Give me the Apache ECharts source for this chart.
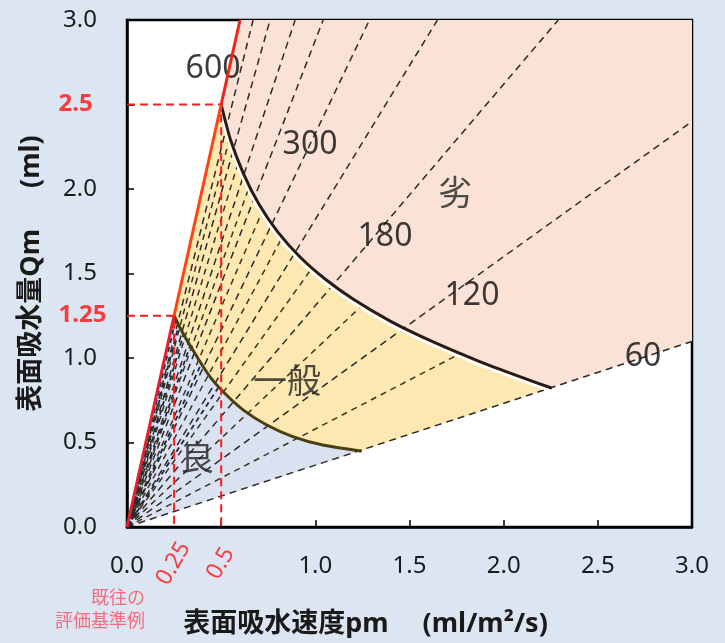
<!DOCTYPE html>
<html><head><meta charset="utf-8">
<script src="https://cdn.jsdelivr.net/npm/echarts@6/dist/echarts.min.js"></script>
<style>html,body{margin:0;padding:0;background:#dce6f2}#c{width:725px;height:643px}</style>
</head><body><div id="c"></div>
<script>
// ---- data ----
const redXTicks = [0.25, 0.5];
const redYTicks = [1.25, 2.5];
// time lines through origin (slopes read at plot edges)
const mainSlopes = [0.366, 0.80, 1.31, 1.82, 2.33, 2.88, 3.36, 3.95, 4.48];
const yellowSlopes = [4.22, 3.65, 3.10, 2.60, 2.08, 1.56, 1.05, 0.58];
const blueSlopes = [4.75, 4.35, 3.80, 3.20, 2.45, 1.70];
// criterion line (red) and guides
const redLine1 = [[0, 0], [0.25, 1.25]];
const redLine2 = [[0.25, 1.25], [0.5, 2.5]];
const redLine3 = [[0.5, 2.5], [0.6, 3.0]];
const guide1 = [[0, 1.25], [0.25, 1.25], [0.25, 0]];
const guide2 = [[0, 2.5], [0.5, 2.5], [0.5, 0]];
// boundary curves
const topCurve = [[0.50, 2.50], [0.55, 2.29], [0.62, 2.087], [0.70, 1.911], [0.80, 1.746], [0.92, 1.596], [1.05, 1.469], [1.20, 1.349], [1.40, 1.217], [1.62, 1.098], [1.86, 0.985], [2.10, 0.884], [2.25, 0.824]];
const midCurve = [[0.25, 1.25], [0.30, 1.14], [0.37, 1.01], [0.44, 0.89], [0.52, 0.79], [0.62, 0.69], [0.74, 0.605], [0.88, 0.535], [1.04, 0.485], [1.24, 0.45]];
const line60End = [3.0, 1.10];
const plotCorner = [3.0, 3.0];
// labels
const rayLabels = ['600', '300', '180', '120', '60'];
const rayLabelPos = [[0.457, 2.71], [0.972, 2.262], [1.37, 1.719], [1.832, 1.37], [2.74, 1.004]];
const zoneLabels = ['劣', '一般', '良'];
const zoneLabelPos = [[1.742, 1.984], [0.85, 0.87], [0.372, 0.413]];

// ---- polygons built from the data ----
const bluePoly = [[0, 0]].concat(midCurve, [[0, 0]]);
const yellowPoly = [redLine2[0], redLine2[1]].concat(topCurve.slice(1), midCurve.slice().reverse());
const pinkPoly = [redLine3[0], redLine3[1], plotCorner, line60End].concat(topCurve.slice().reverse());

const FONT = '"Noto Sans","Noto Sans CJK JP",sans-serif';

function polySeries(points, fill) {
  return {
    type: 'custom', data: [[0]], silent: true,
    renderItem: (params, api) => ({
      type: 'polygon',
      shape: { points: points.map(p => api.coord(p)) },
      style: { fill: fill, stroke: null }
    })
  };
}
function curveSeries(points, color, width, dx, dy) {
  return {
    type: 'custom', data: [[0]], silent: true,
    renderItem: (params, api) => ({
      type: 'polyline',
      shape: { points: points.map(p => { const c = api.coord(p); return [c[0] + (dx || 0), c[1] + (dy || 0)]; }), smooth: 0.25 },
      style: { stroke: color, lineWidth: width, fill: null, lineCap: 'round', lineJoin: 'round' }
    })
  };
}
function raySeries(slopes, color, width, dash) {
  return {
    type: 'custom', silent: true, data: slopes.map(s => [s]),
    renderItem: (params, api) => {
      const s = api.value(0);
      const xe = Math.min(3, 3 / s);
      const a = api.coord([0, 0]), b = api.coord([xe, s * xe]);
      return { type: 'line', shape: { x1: a[0], y1: a[1], x2: b[0], y2: b[1] },
        style: { stroke: color, lineWidth: width, lineDash: dash } };
    }
  };
}
function lineSeries(data, color, width, type) {
  return { type: 'line', data: data, symbol: 'none', silent: true,
    lineStyle: { color: color, width: width, type: type || 'solid' } };
}

const chart = echarts.init(document.getElementById('c'));
chart.setOption({
  backgroundColor: '#dce6f2',
  animation: false,
  grid: { left: 127, right: 33, top: 20, bottom: 115, show: true, backgroundColor: '#ffffff', borderColor: '#000', borderWidth: 2.5 },
  xAxis: {
    type: 'value', min: 0, max: 3, interval: 0.5,
    axisLine: { lineStyle: { color: '#000', width: 2.5 } },
    axisTick: { inside: true, length: 7, lineStyle: { color: '#000', width: 1.5 } },
    splitLine: { show: false },
    axisLabel: { margin: 27, fontSize: 24, color: '#1a1a1a', fontFamily: FONT,
      formatter: v => (redXTicks.indexOf(v) >= 0 ? '' : v.toFixed(1)) },
    name: '表面吸水速度pm　 (ml/m²/s)', nameLocation: 'middle', nameGap: 84,
    nameTextStyle: { fontSize: 27, fontWeight: 'bold', color: '#1a1a1a', fontFamily: FONT, padding: [0, 88, 0, 0] }
  },
  yAxis: {
    type: 'value', min: 0, max: 3, interval: 0.5,
    axisLine: { lineStyle: { color: '#000', width: 2.5 } },
    axisTick: { inside: true, length: 7, lineStyle: { color: '#000', width: 1.5 } },
    splitLine: { show: false },
    axisLabel: { margin: 30, fontSize: 24, color: '#1a1a1a', fontFamily: FONT,
      formatter: v => (redYTicks.indexOf(v) >= 0 ? '' : v.toFixed(1)) },
    name: '表面吸水量Qm　  (ml)', nameLocation: 'middle', nameGap: 82,
    nameTextStyle: { fontSize: 27, fontWeight: 'bold', color: '#1a1a1a', fontFamily: FONT }
  },
  series: [
    polySeries(bluePoly, '#dae2f2'),
    raySeries(blueSlopes, '#1d2844', 1.8, [5, 4]),
    polySeries(yellowPoly, '#fce8b0'),
    raySeries(yellowSlopes, '#3a3320', 1.5, [6, 5]),
    polySeries(pinkPoly, '#fae3d6'),
    raySeries(mainSlopes, '#2a2a2a', 1.5, [7, 5]),
    curveSeries(topCurve, '#ffffff', 3, -1.5, 2.5),
    curveSeries(topCurve, '#2a1c14', 3),
    curveSeries(midCurve, '#4b3f12', 3),
    lineSeries(guide1, '#ff1a1a', 2, [8, 5]),
    lineSeries(guide2, '#ff1a1a', 2, [8, 5]),
    lineSeries(redLine1, '#e3202e', 3),
    lineSeries(redLine2, '#ff4412', 3),
    lineSeries(redLine3, '#f02515', 3),
    { type: 'scatter', silent: true, symbolSize: 1, itemStyle: { color: 'transparent' },
      data: rayLabels.map((t, i) => ({ name: t, value: rayLabelPos[i] })),
      label: { show: true, position: 'inside', formatter: '{b}', fontSize: 32, color: '#0a0a0a', fontFamily: FONT } },
    { type: 'scatter', silent: true, symbolSize: 1, itemStyle: { color: 'transparent' },
      data: zoneLabels.map((t, i) => ({ name: t, value: zoneLabelPos[i] })),
      label: { show: true, position: 'inside', formatter: '{b}', fontSize: 34, color: '#222', fontFamily: '"Noto Sans CJK JP",sans-serif' } },
    { type: 'scatter', silent: true, clip: false, symbolSize: 1, itemStyle: { color: 'transparent' },
      data: redYTicks.map(v => [0, v]),
      label: { show: true, position: [-68, 0], align: 'left', verticalAlign: 'middle', formatter: p => String(p.value[1]),
        fontSize: 24, fontWeight: 'bold', color: '#ff1010', fontFamily: FONT } },
    { type: 'scatter', silent: true, clip: false, symbolSize: 1, itemStyle: { color: 'transparent' },
      data: redXTicks.map(v => [v, 0]),
      label: { show: true, position: [0, 37], align: 'center', verticalAlign: 'middle', rotate: 60, formatter: p => String(p.value[0]),
        fontSize: 23, color: '#ff1010', fontFamily: FONT } }
  ],
  graphic: [
    { type: 'text', right: 725 - 145, top: 588,
      style: { text: '既往の', fill: '#f26d7d', font: '18px "Noto Sans CJK JP",sans-serif' } },
    { type: 'text', right: 725 - 145, top: 611,
      style: { text: '評価基準例', fill: '#f26d7d', font: '18px "Noto Sans CJK JP",sans-serif' } }
  ]
});
</script></body></html>
